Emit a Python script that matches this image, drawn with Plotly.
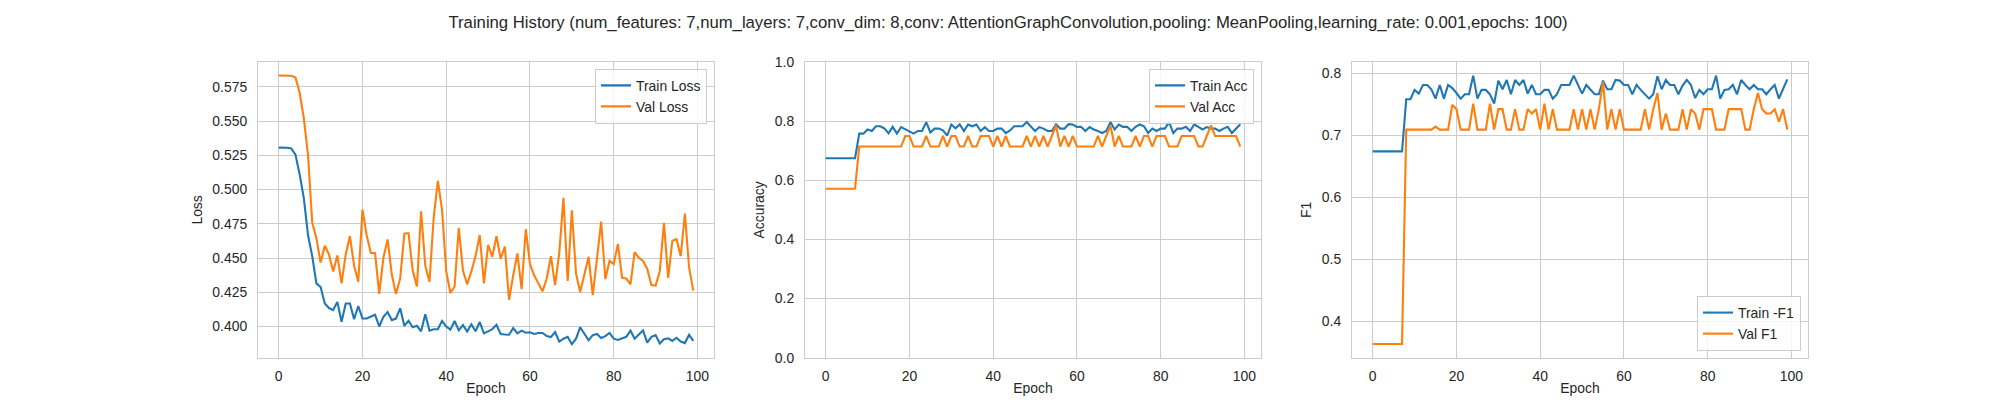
"""Training history of the AttentionGraphConvolution run, three panels: loss, accuracy, F1."""

import plotly.graph_objects as go
from plotly.subplots import make_subplots

EPOCHS = list(range(100))

TRAIN_LOSS = [
    0.5306, 0.5306, 0.5305, 0.5300, 0.5255, 0.5110, 0.4935, 0.4666, 0.4514, 0.4315,
    0.4288, 0.4168, 0.4135, 0.4120, 0.4180, 0.4035, 0.4168, 0.4168, 0.4054, 0.4150,
    0.4058, 0.4058, 0.4075, 0.4086, 0.4000, 0.4070, 0.4105, 0.4047, 0.4058, 0.4133,
    0.4005, 0.4042, 0.3995, 0.4005, 0.3965, 0.4089, 0.3970, 0.3980, 0.3980, 0.4040,
    0.4000, 0.3977, 0.4040, 0.3972, 0.4010, 0.3963, 0.4016, 0.3965, 0.4033, 0.3950,
    0.3965, 0.3980, 0.4012, 0.3946, 0.3942, 0.3940, 0.3988, 0.3950, 0.3970, 0.3955,
    0.3958, 0.3946, 0.3953, 0.3953, 0.3930, 0.3923, 0.3960, 0.3890, 0.3911, 0.3925,
    0.3871, 0.3911, 0.3995, 0.3946, 0.3900, 0.3937, 0.3946, 0.3916, 0.3930, 0.3953,
    0.3911, 0.3902, 0.3911, 0.3925, 0.3970, 0.3911, 0.3942, 0.3972, 0.3883, 0.3925,
    0.3937, 0.3876, 0.3907, 0.3914, 0.3895, 0.3918, 0.3890, 0.3879, 0.3939, 0.3895,
]
VAL_LOSS = [
    0.5832, 0.5832, 0.5831, 0.5830, 0.5818, 0.5706, 0.5519, 0.5250, 0.4759, 0.4643,
    0.4467, 0.4589, 0.4526, 0.4402, 0.4519, 0.4315, 0.4526, 0.4659, 0.4444, 0.4327,
    0.4853, 0.4666, 0.4537, 0.4537, 0.4238, 0.4502, 0.4636, 0.4379, 0.4238, 0.4350,
    0.4678, 0.4682, 0.4409, 0.4292, 0.4841, 0.4444, 0.4327, 0.4794, 0.5063, 0.4853,
    0.4402, 0.4245, 0.4292, 0.4720, 0.4409, 0.4308, 0.4402, 0.4514, 0.4668, 0.4315,
    0.4596, 0.4509, 0.4659, 0.4495, 0.4584, 0.4194, 0.4374, 0.4533, 0.4273, 0.4710,
    0.4456, 0.4374, 0.4315, 0.4257, 0.4350, 0.4514, 0.4303, 0.4537, 0.4939, 0.4332,
    0.4848, 0.4386, 0.4252, 0.4379, 0.4509, 0.4229, 0.4491, 0.4766, 0.4346, 0.4479,
    0.4456, 0.4603, 0.4355, 0.4350, 0.4308, 0.4542, 0.4502, 0.4479, 0.4421, 0.4303,
    0.4299, 0.4402, 0.4757, 0.4355, 0.4626, 0.4638, 0.4514, 0.4825, 0.4432, 0.4262,
]
TRAIN_ACC = [
    0.675, 0.675, 0.675, 0.675, 0.675, 0.675, 0.675, 0.675, 0.758, 0.758,
    0.772, 0.767, 0.783, 0.783, 0.776, 0.759, 0.781, 0.758, 0.780, 0.772,
    0.765, 0.758, 0.767, 0.767, 0.797, 0.762, 0.775, 0.775, 0.769, 0.751,
    0.789, 0.776, 0.789, 0.767, 0.789, 0.783, 0.789, 0.767, 0.780, 0.767,
    0.767, 0.775, 0.775, 0.760, 0.769, 0.783, 0.783, 0.783, 0.797, 0.783,
    0.767, 0.780, 0.775, 0.767, 0.767, 0.789, 0.775, 0.775, 0.790, 0.789,
    0.781, 0.781, 0.767, 0.780, 0.772, 0.767, 0.760, 0.767, 0.797, 0.772,
    0.789, 0.781, 0.781, 0.767, 0.781, 0.789, 0.783, 0.760, 0.775, 0.767,
    0.775, 0.775, 0.797, 0.760, 0.775, 0.775, 0.781, 0.767, 0.789, 0.781,
    0.772, 0.780, 0.775, 0.775, 0.767, 0.775, 0.781, 0.760, 0.775, 0.790,
]
VAL_ACC = [
    0.5714, 0.5714, 0.5714, 0.5714, 0.5714, 0.5714, 0.5714, 0.5714, 0.7143, 0.7143,
    0.7143, 0.7143, 0.7143, 0.7143, 0.7143, 0.7143, 0.7143, 0.7143, 0.7143, 0.7500,
    0.7500, 0.7143, 0.7143, 0.7143, 0.7500, 0.7143, 0.7143, 0.7143, 0.7500, 0.7143,
    0.7500, 0.7500, 0.7143, 0.7143, 0.7500, 0.7143, 0.7143, 0.7500, 0.7500, 0.7500,
    0.7143, 0.7500, 0.7143, 0.7500, 0.7143, 0.7143, 0.7143, 0.7143, 0.7500, 0.7143,
    0.7500, 0.7143, 0.7500, 0.7143, 0.7500, 0.7857, 0.7143, 0.7500, 0.7143, 0.7500,
    0.7143, 0.7143, 0.7143, 0.7143, 0.7143, 0.7500, 0.7143, 0.7500, 0.7857, 0.7143,
    0.7500, 0.7143, 0.7143, 0.7143, 0.7500, 0.7143, 0.7500, 0.7500, 0.7143, 0.7500,
    0.7500, 0.7500, 0.7143, 0.7143, 0.7143, 0.7500, 0.7500, 0.7500, 0.7500, 0.7143,
    0.7143, 0.7500, 0.7857, 0.7500, 0.7500, 0.7500, 0.7500, 0.7500, 0.7500, 0.7143,
]
TRAIN_F1 = [
    0.674, 0.674, 0.674, 0.674, 0.674, 0.674, 0.674, 0.674, 0.758, 0.758,
    0.773, 0.767, 0.781, 0.781, 0.774, 0.759, 0.781, 0.759, 0.781, 0.776,
    0.768, 0.759, 0.766, 0.766, 0.796, 0.759, 0.773, 0.773, 0.766, 0.751,
    0.788, 0.774, 0.789, 0.766, 0.789, 0.781, 0.789, 0.767, 0.781, 0.766,
    0.766, 0.773, 0.773, 0.759, 0.766, 0.781, 0.781, 0.781, 0.796, 0.781,
    0.767, 0.781, 0.774, 0.766, 0.766, 0.788, 0.774, 0.774, 0.789, 0.788,
    0.781, 0.781, 0.766, 0.781, 0.773, 0.766, 0.759, 0.766, 0.795, 0.774,
    0.789, 0.781, 0.781, 0.766, 0.780, 0.789, 0.781, 0.760, 0.773, 0.766,
    0.774, 0.774, 0.796, 0.759, 0.773, 0.774, 0.781, 0.766, 0.789, 0.781,
    0.774, 0.781, 0.774, 0.774, 0.766, 0.774, 0.781, 0.759, 0.774, 0.790,
]
VAL_F1 = [
    0.364, 0.364, 0.364, 0.364, 0.364, 0.364, 0.364, 0.364, 0.709, 0.709,
    0.709, 0.709, 0.709, 0.709, 0.709, 0.714, 0.709, 0.709, 0.709, 0.749,
    0.742, 0.709, 0.709, 0.709, 0.751, 0.709, 0.709, 0.709, 0.751, 0.709,
    0.742, 0.742, 0.709, 0.709, 0.742, 0.709, 0.709, 0.742, 0.735, 0.742,
    0.709, 0.751, 0.709, 0.742, 0.709, 0.709, 0.709, 0.709, 0.742, 0.709,
    0.742, 0.709, 0.742, 0.709, 0.742, 0.786, 0.709, 0.742, 0.709, 0.742,
    0.709, 0.709, 0.709, 0.709, 0.709, 0.742, 0.709, 0.742, 0.768, 0.709,
    0.735, 0.709, 0.709, 0.709, 0.742, 0.709, 0.742, 0.735, 0.709, 0.742,
    0.742, 0.742, 0.709, 0.709, 0.709, 0.742, 0.742, 0.742, 0.742, 0.709,
    0.709, 0.742, 0.768, 0.742, 0.735, 0.735, 0.742, 0.722, 0.742, 0.709,
]

TITLE = (
    "Training History (num_features: 7,num_layers: 7,conv_dim: 8,"
    "conv: AttentionGraphConvolution,pooling: MeanPooling,learning_rate: 0.001,epochs: 100)"
)

BLUE = "#1f77b4"
ORANGE = "#ff7f0e"
TEXT = "#262626"
GRID = "#cccccc"
FONT = "Liberation Sans, Arial, sans-serif"
SIZE = 13.9  # 10pt at 100 dpi
W, H = 2000, 400

# (series, names, y label, y range, dtick, tick format, legend placement)
PANELS = [
    ((TRAIN_LOSS, VAL_LOSS), ("Train Loss", "Val Loss"), "Loss",
     (0.3772, 0.5930), 0.025, ".3f", "top"),
    ((TRAIN_ACC, VAL_ACC), ("Train Acc", "Val Acc"), "Accuracy",
     (0.0, 1.0), 0.2, ".1f", "top"),
    ((TRAIN_F1, VAL_F1), ("Train -F1", "Val F1"), "F1",
     (0.3418, 0.8178), 0.1, ".1f", "bottom"),
]
X_DOMAINS = [(250, 706), (797, 1253), (1344, 1800)]


def main() -> None:
    fig = make_subplots(rows=1, cols=3)
    font = {"size": SIZE, "color": TEXT, "family": FONT}
    for i, (series, names, ylabel, yrange, dtick, fmt, where) in enumerate(PANELS):
        col = i + 1
        legend = "legend" if i == 0 else f"legend{col}"
        for ys, name, color in zip(series, names, (BLUE, ORANGE)):
            fig.add_trace(
                go.Scatter(x=EPOCHS, y=ys, mode="lines", name=name,
                           line={"color": color, "width": 2.1}, legend=legend),
                row=1, col=col,
            )
        x0, x1 = X_DOMAINS[i]
        axis_common = dict(
            showline=True, mirror=True, linecolor=GRID, linewidth=1.2,
            showgrid=True, gridcolor=GRID, gridwidth=1, zeroline=False,
            ticks="outside", tickcolor="rgba(0,0,0,0)", tickfont=font,
        )
        fig.update_xaxes(
            domain=[x0 / W, x1 / W], range=[-4.95, 103.95], dtick=20, tick0=0,
            ticklen=5,
            title={"text": "Epoch", "standoff": 0, "font": font},
            **axis_common, row=1, col=col,
        )
        fig.update_yaxes(
            domain=[0.11, 0.88], range=list(yrange), dtick=dtick, tick0=0,
            tickformat=fmt, ticklen=7,
            title={"text": ylabel, "standoff": 6, "font": font},
            **axis_common, row=1, col=col,
        )
        leg = dict(
            xanchor="right", x=(x1 - 7) / W,
            bgcolor="rgba(255,255,255,0.8)", bordercolor=GRID, borderwidth=1,
            font=font, itemwidth=30, tracegroupgap=0,
        )
        if where == "top":
            leg.update(yanchor="top", y=(H - 55) / H)
        else:
            leg.update(yanchor="bottom", y=(H - 349) / H)
        fig.update_layout({legend: leg})

    fig.update_layout(
        width=W, height=H,
        margin={"l": 0, "r": 0, "t": 0, "b": 0},
        paper_bgcolor="white", plot_bgcolor="white",
        showlegend=True,
        title={"text": TITLE, "x": 0.5, "xanchor": "center",
               "y": 1 - 14 / H, "yanchor": "middle",
               "font": {"size": 16.7, "color": TEXT, "family": FONT}},
    )
    fig.write_html("out.html")


if __name__ == "__main__":
    main()
